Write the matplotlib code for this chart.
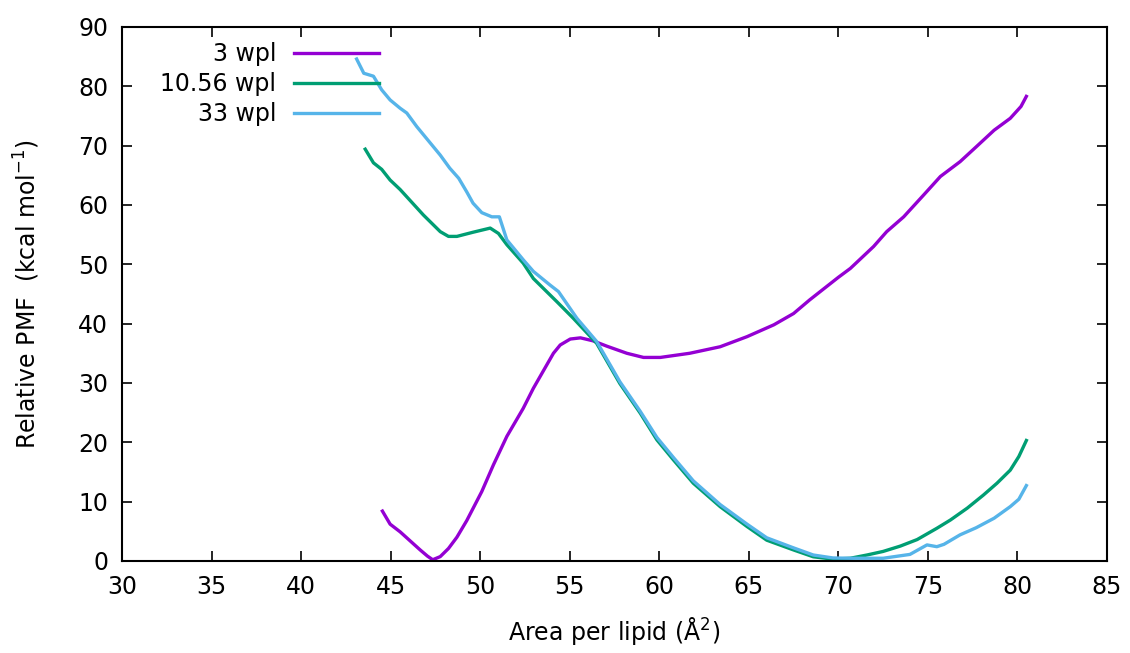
import numpy as np
import matplotlib
matplotlib.use("Agg")
from matplotlib import pyplot as plt

# 3 wpl
apl_3 = [44.54, 44.97, 45.53, 46.65, 47.06, 47.35, 47.77, 48.23, 48.7, 49.25,
         50.09, 50.74, 51.49, 52.4, 52.97, 54.09, 54.47, 55.03, 55.6, 56.3,
         57.07, 58.19, 59.12, 60.06, 61.7, 63.4, 64.9, 66.4, 67.5, 68.4,
         70.0, 70.67, 71.97, 72.7, 73.65, 74.77, 75.7, 76.8, 77.7, 78.7,
         79.6, 80.2, 80.5]
pmf_3 = [8.4, 6.2, 4.9, 1.85, 0.8, 0.2, 0.73, 2.1, 4.0, 6.8,
         11.7, 16.2, 21.0, 25.7, 29.1, 35.0, 36.4, 37.4, 37.6, 37.1,
         36.2, 35.0, 34.3, 34.3, 35.0, 36.1, 37.8, 39.8, 41.7, 44.0,
         47.8, 49.3, 53.0, 55.5, 58.0, 61.7, 64.8, 67.3, 69.8, 72.6,
         74.6, 76.6, 78.3]

# 10.56 wpl
apl_10 = [43.58, 44.04, 44.5, 44.97, 45.53, 46.83, 47.77, 48.23, 48.7, 49.6,
          50.56, 51.02, 51.49, 52.4, 52.97, 54.28, 55.2, 56.5, 57.8, 58.94,
          59.87, 60.8, 61.9, 63.4, 64.9, 66.0, 67.5, 68.6, 69.7, 70.67,
          71.6, 72.5, 73.46, 74.4, 75.5, 76.26, 77.2, 78.1, 78.86, 79.6,
          80.08, 80.5]
pmf_10 = [69.4, 67.1, 66.0, 64.2, 62.6, 58.3, 55.5, 54.7, 54.7, 55.4,
          56.1, 55.2, 53.3, 50.2, 47.6, 43.7, 40.9, 36.7, 29.9, 24.9,
          20.4, 17.0, 13.1, 9.15, 5.8, 3.5, 1.85, 0.7, 0.3, 0.45,
          1.0, 1.6, 2.5, 3.6, 5.5, 6.9, 8.9, 11.1, 13.1, 15.3,
          17.6, 20.3]

# 33 wpl
apl_33 = [43.1, 43.5, 44.04, 44.5, 44.97, 45.53, 45.9, 46.46, 47.77, 48.3,
          48.8, 49.25, 49.6, 50.09, 50.65, 51.07, 51.49, 52.42, 52.97, 53.9,
          54.37, 55.4, 56.5, 57.8, 58.94, 59.87, 60.8, 61.9, 63.4, 64.9,
          66.0, 67.5, 68.6, 69.7, 70.67, 72.5, 74.0, 74.95, 75.5, 75.9,
          76.8, 77.7, 78.7, 79.6, 80.08, 80.5]
pmf_33 = [84.6, 82.2, 81.7, 79.4, 77.7, 76.3, 75.5, 73.2, 68.4, 66.2,
          64.5, 62.2, 60.3, 58.7, 58.0, 58.0, 54.1, 50.7, 48.8, 46.5,
          45.4, 40.9, 37.0, 30.2, 25.2, 20.8, 17.4, 13.5, 9.5, 6.2,
          3.9, 2.2, 1.0, 0.5, 0.45, 0.45, 1.1, 2.7, 2.4, 2.8,
          4.4, 5.6, 7.2, 9.15, 10.4, 12.7]

labels = ["3 wpl", "10.56 wpl", "33 wpl"]
colors = ["#9400D3", "#009E73", "#56B4E9"]

fig = plt.figure(figsize=(11.3, 6.53), dpi=100)
ax = fig.add_axes([0.108, 0.141, 0.8716, 0.8177])

for x, y, lab, col in zip([apl_3, apl_10, apl_33], [pmf_3, pmf_10, pmf_33], labels, colors):
    ax.plot(x, y, color=col, lw=2.4, label=lab)

ax.set_xlim(30, 85)
ax.set_ylim(0, 90)
ax.set_xticks(np.arange(30, 86, 5))
ax.set_yticks(np.arange(0, 91, 10))
ax.tick_params(direction="in", length=7, width=1.2, top=True, right=True,
               labelsize=17, pad=10)
for s in ax.spines.values():
    s.set_linewidth(1.5)

ax.set_xlabel("Area per lipid (Å$^{2}$)", fontsize=17, labelpad=12)
ax.set_ylabel("Relative PMF  (kcal mol$^{-1}$)", fontsize=17, labelpad=26)

ax.legend(loc="upper left", bbox_to_anchor=(0.142, 0.935),
          bbox_transform=fig.transFigure, frameon=False,
          markerfirst=False, fontsize=17, handlelength=3.6,
          handletextpad=0.75, labelspacing=0.25, borderpad=0,
          borderaxespad=0)

fig.savefig("out.png", dpi=100)
